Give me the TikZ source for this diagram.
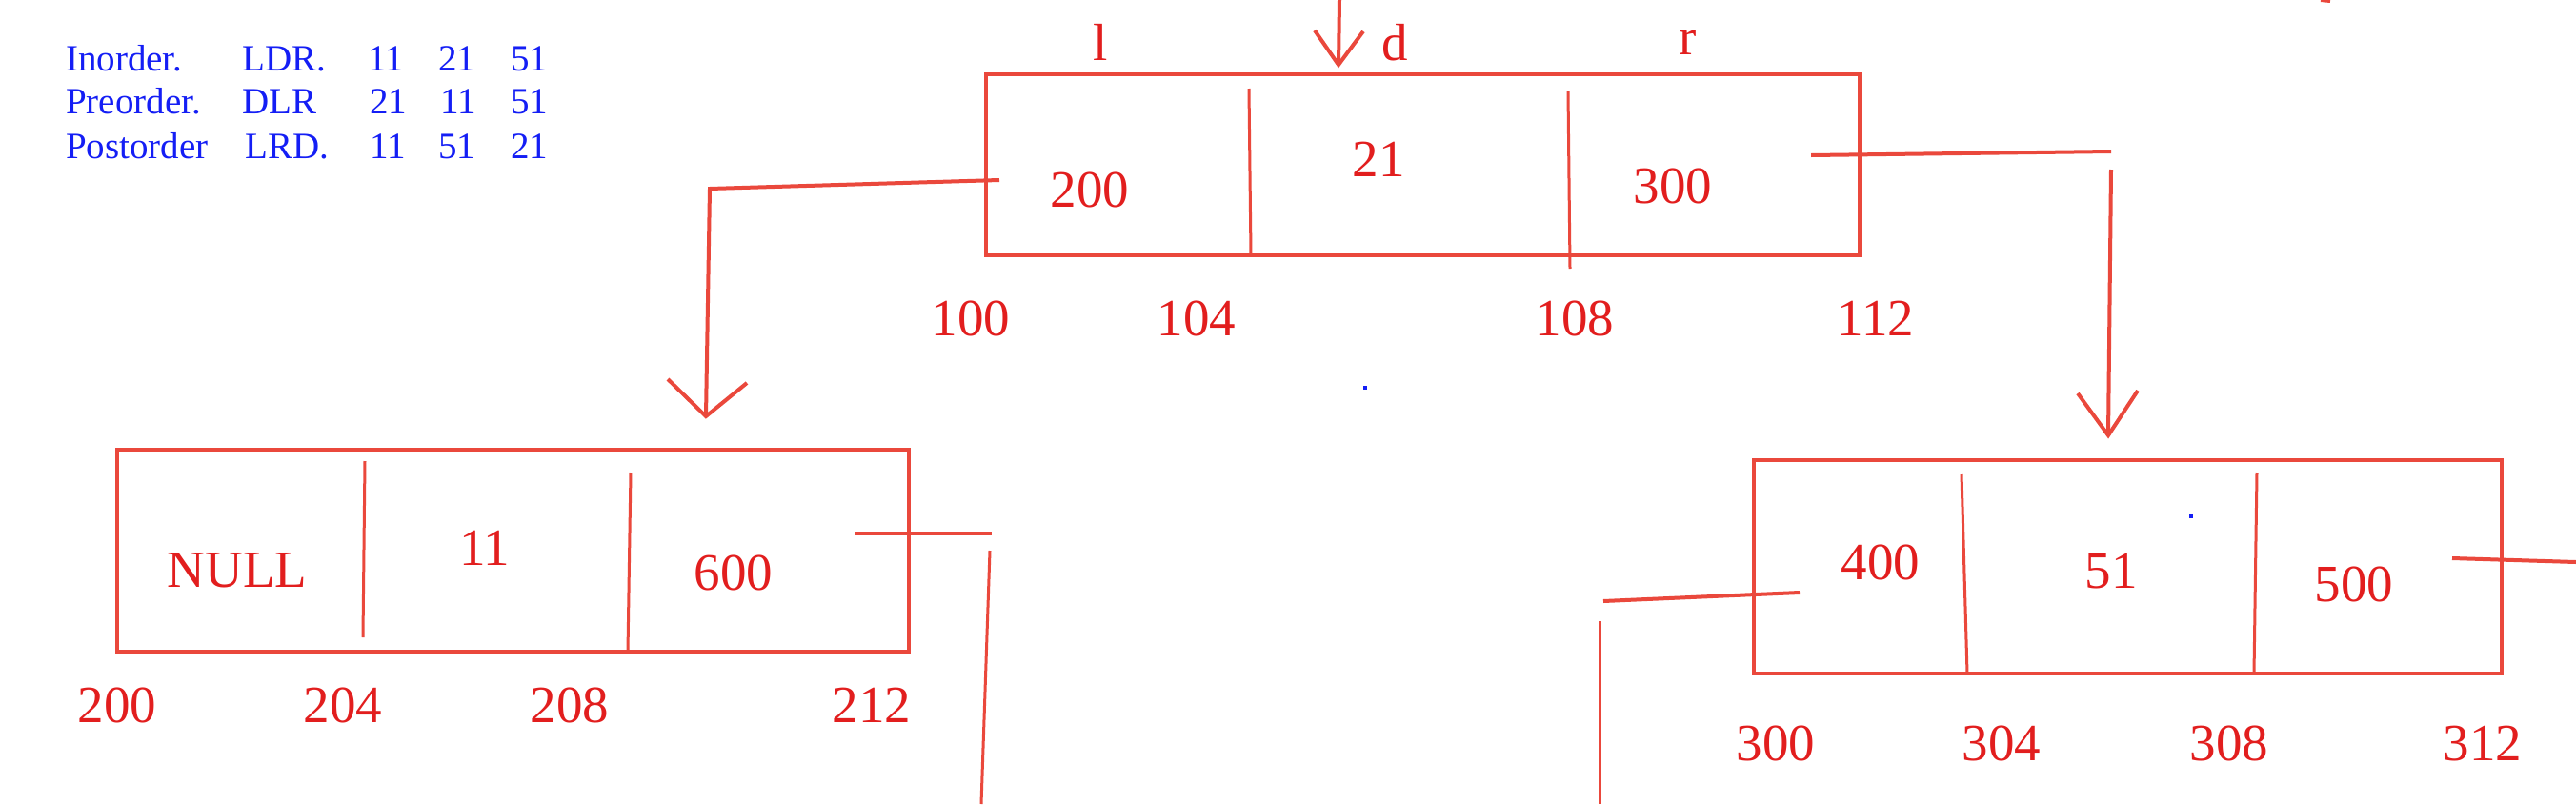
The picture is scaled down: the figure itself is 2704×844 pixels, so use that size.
\documentclass[tikz,border=0pt]{standalone}
\usepackage{fontspec}
\setmainfont{Liberation Serif}
\definecolor{lred}{RGB}{234,72,60}
\definecolor{tred}{RGB}{226,30,30}
\definecolor{tblue}{RGB}{20,30,245}
\begin{document}
\begin{tikzpicture}[x=1pt,y=-1pt,
  redline/.style={draw=lred,line width=4pt},
  divline/.style={draw=lred,line width=3pt},
  cellbox/.style={draw=lred,line width=4pt,inner sep=0pt,outer sep=0pt},
  lbl/.style={text=tred,font=\fontsize{55}{60}\selectfont,inner sep=0pt,anchor=base},
  blu/.style={text=tblue,font=\fontsize{39}{44}\selectfont,inner sep=0pt,anchor=base west}]
\useasboundingbox[fill=white] (0,0) rectangle (2704,844);

% blue legend
\node[blu] (t11) at (69,74) {Inorder.};
\node[blu] (t12) at (254,74) {LDR.};
\node[blu] (t13) at (386,74) {11};
\node[blu] (t14) at (460,74) {21};
\node[blu] (t15) at (536,74) {51};
\node[blu] (t21) at (69,119) {Preorder.};
\node[blu] (t22) at (254,119) {DLR};
\node[blu] (t23) at (388,119) {21};
\node[blu] (t24) at (462,119) {11};
\node[blu] (t25) at (536,119) {51};
\node[blu] (t31) at (69,166) {Postorder};
\node[blu] (t32) at (257,166) {LRD.};
\node[blu] (t33) at (388,166) {11};
\node[blu] (t34) at (460,166) {51};
\node[blu] (t35) at (536,166) {21};

% top node (100)
\node[cellbox,minimum width=917pt,minimum height=190pt] (boxA) at (1493.5,173) {};
\draw[divline] (1311,93) -- (1313,268);
\draw[divline] (1646,96) -- (1648,282);
\node[lbl] (la) at (1155,63) {l};
\node[lbl] (da) at (1464,63) {d};
\node[lbl] (ra) at (1772,57) {r};
\node[lbl] (a1) at (1144,217) {200};
\node[lbl] (a2) at (1447,185) {21};
\node[lbl] (a3) at (1756,213) {300};
\node[lbl] (aa1) at (1019,352) {100};
\node[lbl] (aa2) at (1256,352) {104};
\node[lbl] (aa3) at (1653,352) {108};
\node[lbl] (aa4) at (1969,352) {112};

% left node (200)
\node[cellbox,minimum width=831pt,minimum height=212pt] (boxB) at (538.5,578) {};
\draw[divline] (383,484) -- (381,669);
\draw[divline] (662,496) -- (659,684);
\node[lbl] (b1) at (249,616) {NULL};
\node[lbl] (b2) at (509,593) {11};
\node[lbl] (b3) at (770,619) {600};
\node[lbl] (bb1) at (123,758) {200};
\node[lbl] (bb2) at (360,758) {204};
\node[lbl] (bb3) at (598,758) {208};
\node[lbl] (bb4) at (915,758) {212};

% right node (300)
\node[cellbox,minimum width=785pt,minimum height=224pt] (boxC) at (2233.5,595) {};
\draw[divline] (2059,498) -- (2065,707);
\draw[divline] (2369,496) -- (2366,707);
\node[lbl] (c1) at (1974,608) {400};
\node[lbl] (c2) at (2216,617) {51};
\node[lbl] (c3) at (2471,631) {500};
\node[lbl] (cc1) at (1864,798) {300};
\node[lbl] (cc2) at (2101,798) {304};
\node[lbl] (cc3) at (2340,798) {308};
\node[lbl] (cc4) at (2606,798) {312};

% connector coordinates
\coordinate (rootin) at (1406,0);
\coordinate (tipA) at (1405,68);
\coordinate (aLa) at (1380,32);
\coordinate (aRa) at (1431,33);

\coordinate (lsA) at (1049,189);
\coordinate (lcA) at (745,198);
\coordinate (tipB) at (741,437);
\coordinate (aLb) at (701,398);
\coordinate (aRb) at (784,402);

\coordinate (rsA) at (1901,163);
\coordinate (rcA) at (2216,159);
\coordinate (rvA) at (2216,178);
\coordinate (tipC) at (2213,457);
\coordinate (aLc) at (2181,413);
\coordinate (aRc) at (2244,410);

\coordinate (rsB) at (898,560);
\coordinate (reB) at (1041,560);
\coordinate (rvB) at (1039,578);
\coordinate (rdB) at (1030,844);

\coordinate (lsC) at (1889,622);
\coordinate (leC) at (1683,631);
\coordinate (lvC) at (1679,652);
\coordinate (ldC) at (1679,844);

\coordinate (rsC) at (2574,586);
\coordinate (reC) at (2704,590);

\coordinate (m1) at (2436,0);
\coordinate (m2) at (2446,1);

% connectors
\draw[redline] (rootin) -- (tipA);
\draw[redline] (aLa) -- (tipA) -- (aRa);

\draw[redline] (lsA) -- (lcA) -- (tipB);
\draw[redline] (aLb) -- (tipB) -- (aRb);

\draw[redline] (rsA) -- (rcA);
\draw[redline] (rvA) -- (tipC);
\draw[redline] (aLc) -- (tipC) -- (aRc);

\draw[redline] (rsB) -- (reB);
\draw[divline] (rvB) -- (rdB);

\draw[redline] (lsC) -- (leC);
\draw[divline] (lvC) -- (ldC);

\draw[redline] (rsC) -- (reC);
\draw[redline] (m1) -- (m2);

% stray blue dots
\fill[tblue] (1431,405) rectangle (1435,409);
\fill[tblue] (2298,540) rectangle (2302,544);
\end{tikzpicture}
\end{document}
